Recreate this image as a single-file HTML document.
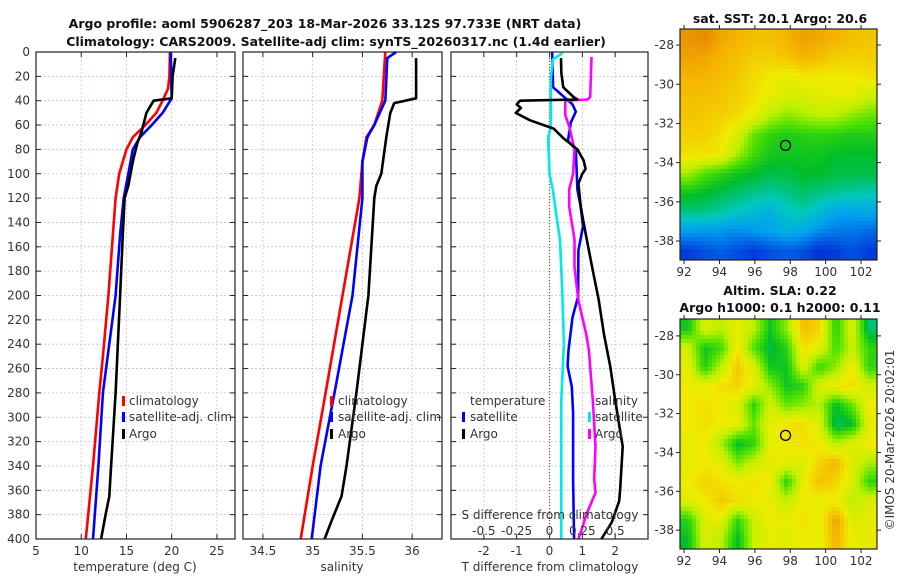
<!DOCTYPE html>
<html><head><meta charset="utf-8">
<style>
html,body{margin:0;padding:0;background:#fff;}
svg{display:block;font-family:"DejaVu Sans","Liberation Sans",sans-serif;}
.t{font-size:12px;fill:#333;}
.b{font-size:12.5px;font-weight:bold;fill:#111;}
</style></head><body>
<svg id="fig" width="900" height="580" viewBox="0 0 900 580">
<text class="b" x="325" y="28" text-anchor="middle">Argo profile: aoml 5906287_203 18-Mar-2026 33.12S 97.733E (NRT data)</text>
<text class="b" x="336" y="46" text-anchor="middle">Climatology: CARS2009. Satellite-adj clim: synTS_20260317.nc (1.4d earlier)</text>
<text class="b" x="780" y="23" text-anchor="middle">sat. SST: 20.1 Argo: 20.6</text>
<text class="b" x="780" y="295" text-anchor="middle">Altim. SLA: 0.22</text>
<text class="b" x="780" y="312" text-anchor="middle">Argo h1000: 0.1 h2000: 0.11</text>
<text class="t" transform="translate(894,440) rotate(-90)" text-anchor="middle">©IMOS 20-Mar-2026 20:02:01</text>
<g id="plots"></g>
</svg>
<script>
// ---- profile data ----
const tClimDepth=[0,20,30,40,50,60,70,80,90,100,120,150,200,250,280,340,400];
const tClimVal=[19.8,19.75,19.6,19.0,18.3,17.1,15.7,15.0,14.6,14.2,13.8,13.5,13.0,12.4,12.0,11.3,10.5];
const tSatDepth=[0,20,38,50,60,70,80,100,120,150,200,280,340,400];
const tSatVal=[19.9,19.95,20.0,19.0,17.8,16.5,15.7,15.2,14.7,14.3,13.8,12.4,11.9,11.3];
const tArgoDepth=[5,20,38,40,50,65,75,90,110,120,150,200,280,340,365,380,400];
const tArgoVal=[20.4,20.1,20.0,18.0,17.2,16.7,16.2,15.7,15.2,14.8,14.6,14.3,13.8,13.3,13.1,12.7,12.2];
const sClimDepth=[0,40,60,70,90,120,200,280,340,400];
const sClimVal=[35.73,35.7,35.62,35.54,35.5,35.47,35.3,35.13,35.0,34.88];
const sSatDepth=[0,5,40,60,70,90,120,200,280,340,400];
const sSatVal=[35.84,35.75,35.73,35.62,35.55,35.5,35.5,35.4,35.22,35.08,34.99];
const sArgoDepth=[5,38,42,50,70,100,110,120,200,280,340,365,385,400];
const sArgoVal=[36.04,36.04,35.82,35.78,35.74,35.69,35.64,35.62,35.56,35.44,35.34,35.29,35.19,35.12];
const dTSatDepth=[0,29,43,49,58,73,80,113,127,143,163,201,218,245,258,275,296,351,400];
const dTSatVal=[0.08,0.11,0.7,0.8,0.65,0.56,0.8,0.85,0.95,1.02,0.88,0.87,0.7,0.58,0.55,0.68,0.72,0.72,0.75];
const dTArgoDepth=[5,17,29,37,39,40,43,46,50,56,63,71,80,89,96,100,108,127,149,177,204,232,258,286,324,360,369,386,400];
const dTArgoVal=[0.35,0.36,0.42,0.73,0.85,-0.9,-1.0,-0.87,-1.03,-0.6,0.13,0.43,0.85,1.04,1.1,1.0,0.88,0.95,1.1,1.3,1.5,1.66,1.85,2.0,2.23,2.15,2.12,1.9,1.58];
const dSSatDepth=[1,6,22,39,61,70,100,113,140,154,204,240,286,400];
const dSSatVal=[0.1,0.025,0.01,0.01,0.01,-0.01,0.0,0.025,0.06,0.08,0.1,0.11,0.09,0.09];
const dSArgoDepth=[4,37,39,40,52,61,80,100,113,127,154,177,204,232,245,286,324,351,362,380,394,400];
const dSArgoVal=[0.32,0.31,0.29,0.12,0.12,0.15,0.19,0.18,0.15,0.15,0.19,0.19,0.22,0.28,0.3,0.33,0.35,0.34,0.35,0.28,0.24,0.22];
const depthTicks=[0,20,40,60,80,100,120,140,160,180,200,220,240,260,280,300,320,340,360,380,400];
const tTicks=[5,10,15,20,25];
const sTicks=[34.5,35,35.5,36];
const dTTicks=[-2,-1,0,1,2];
const dSTicks=[-0.5,-0.25,0,0.25,0.5];
// ---- map data (colour index 0..1) ----
const sstGrid=[
[0.95,0.97,0.92,0.9,0.88,0.88,0.9,0.93,0.92,0.9,0.88,0.87],
[0.93,0.92,0.9,0.88,0.85,0.85,0.87,0.9,0.88,0.85,0.85,0.85],
[0.9,0.9,0.88,0.86,0.83,0.8,0.78,0.8,0.8,0.8,0.8,0.82],
[0.88,0.88,0.87,0.85,0.82,0.78,0.75,0.75,0.77,0.78,0.78,0.72],
[0.87,0.86,0.85,0.83,0.78,0.7,0.65,0.68,0.7,0.7,0.65,0.62],
[0.85,0.85,0.82,0.75,0.62,0.56,0.54,0.55,0.56,0.55,0.54,0.54],
[0.82,0.82,0.8,0.68,0.58,0.53,0.52,0.52,0.52,0.5,0.5,0.5],
[0.68,0.6,0.56,0.52,0.5,0.48,0.48,0.5,0.5,0.48,0.48,0.48],
[0.52,0.5,0.48,0.46,0.44,0.42,0.44,0.46,0.44,0.43,0.42,0.41],
[0.44,0.44,0.42,0.39,0.37,0.34,0.39,0.41,0.37,0.32,0.31,0.32],
[0.3,0.29,0.29,0.27,0.29,0.31,0.34,0.32,0.27,0.24,0.24,0.22],
[0.15,0.18,0.2,0.18,0.15,0.18,0.2,0.18,0.13,0.15,0.18,0.15]];
const slaGrid=[
[0.52,0.76,0.7,0.78,0.7,0.52,0.66,0.88,0.84,0.55,0.76,0.45],
[0.74,0.52,0.58,0.8,0.6,0.48,0.55,0.82,0.78,0.58,0.72,0.56],
[0.78,0.54,0.7,0.87,0.76,0.52,0.52,0.76,0.56,0.66,0.8,0.56],
[0.8,0.78,0.82,0.84,0.78,0.66,0.52,0.55,0.76,0.8,0.83,0.74],
[0.8,0.82,0.8,0.76,0.56,0.74,0.62,0.66,0.7,0.5,0.62,0.8],
[0.8,0.82,0.8,0.78,0.62,0.78,0.82,0.82,0.76,0.46,0.5,0.78],
[0.78,0.8,0.68,0.5,0.56,0.78,0.8,0.82,0.8,0.7,0.76,0.8],
[0.78,0.8,0.78,0.64,0.72,0.78,0.78,0.76,0.84,0.9,0.76,0.68],
[0.8,0.84,0.82,0.8,0.82,0.8,0.55,0.78,0.88,0.84,0.76,0.56],
[0.76,0.8,0.86,0.82,0.8,0.78,0.72,0.8,0.78,0.8,0.7,0.76],
[0.55,0.76,0.78,0.56,0.72,0.8,0.78,0.82,0.78,0.93,0.76,0.78],
[0.5,0.76,0.7,0.5,0.72,0.78,0.76,0.8,0.78,0.9,0.78,0.78]];
const lonTicks=[92,94,96,98,100,102];
const latTicks=[-28,-30,-32,-34,-36,-38];
const argoLon=97.733, argoLat=-33.12;

const NS='http://www.w3.org/2000/svg';
const root=document.getElementById('plots');
function mk(tag,attrs,parent){const e=document.createElementNS(NS,tag);for(const k in attrs)e.setAttribute(k,attrs[k]);(parent||root).appendChild(e);return e;}
const Y0=52,Y1=539;
function yD(d){return Y0+(Y1-Y0)*d/400;}
function lin(a,b,p,q){return v=>p+(v-a)*(q-p)/(b-a);}

function panel(name,x0,x1,xs,ticks,fmt,showY){
  const g=mk('g',{});
  
  
  depthTicks.forEach(d=>{const l=mk('line',{x1:x0,x2:x1,y1:yD(d),y2:yD(d),stroke:'#b8c4e8','stroke-width':0.8,'stroke-dasharray':'2,2'},g);
    
    const t1=mk('line',{x1:x0,x2:x0+5,y1:yD(d),y2:yD(d),stroke:'#222'},g);
    const t2=mk('line',{x1:x1-5,x2:x1,y1:yD(d),y2:yD(d),stroke:'#222'},g);
    if(showY){const t=mk('text',{x:x0-6,y:yD(d)+4,'text-anchor':'end',class:'t'},g);t.textContent=d;}
  });
  ticks.forEach(v=>{const x=xs(v);
    const l=mk('line',{x1:x,x2:x,y1:Y0,y2:Y1,stroke:'#d8c0b8','stroke-width':0.8,'stroke-dasharray':'2,2'},g);
    const t1=mk('line',{x1:x,x2:x,y1:Y1-5,y2:Y1,stroke:'#222'},g);
    const t2=mk('line',{x1:x,x2:x,y1:Y0,y2:Y0+5,stroke:'#222'},g);
    const t=mk('text',{x:x,y:Y1+16,'text-anchor':'middle',class:'t'},g);t.textContent=fmt(v);
  });
  return g;
}
function frame(g,x0,x1){const r=mk('rect',{x:x0,y:Y0,width:x1-x0,height:Y1-Y0,fill:'none',stroke:'#222','stroke-width':1.2},g);}
function line(g,name,ds,vs,xs,col){
  const pts=ds.map((d,i)=>xs(vs[i]).toFixed(1)+','+yD(d).toFixed(1)).join(' ');
  const p=mk('polyline',{points:pts,fill:'none',stroke:col,'stroke-width':2.6,'stroke-linejoin':'round'},g);
  
}
function txt(g,name,x,y,s,anchor){const t=mk('text',{x:x,y:y,class:'t','text-anchor':anchor||'start'},g);t.textContent=s;return t;}
function lbar(g,x,y,col){const r=mk('rect',{x:x,y:y-9,width:3,height:10,fill:col},g);}

// Panel 1: temperature
const xT=lin(5,27,36,235);
const g1=panel('temperature-panel',36,235,xT,tTicks,v=>v,true);
line(g1,'temp-climatology-line',tClimDepth,tClimVal,xT,'#ff0000');
line(g1,'temp-satellite-line',tSatDepth,tSatVal,xT,'#0000ff');
line(g1,'temp-argo-line',tArgoDepth,tArgoVal,xT,'#000000');
frame(g1,36,235);
txt(g1,'x-axis-title-temperature',135,571,'temperature (deg C)','middle');
lbar(g1,122,405,'#ff0000');txt(g1,'legend-climatology',129,405,'climatology');
lbar(g1,122,421,'#0000ff');txt(g1,'legend-satellite-adj',129,421,'satellite-adj. clim');
lbar(g1,122,438,'#000');txt(g1,'legend-argo',129,438,'Argo');

// Panel 2: salinity
const xS=lin(34.3,36.3,243,442);
const g2=panel('salinity-panel',243,442,xS,sTicks,v=>v,false);
line(g2,'sal-climatology-line',sClimDepth,sClimVal,xS,'#ff0000');
line(g2,'sal-satellite-line',sSatDepth,sSatVal,xS,'#0000ff');
line(g2,'sal-argo-line',sArgoDepth,sArgoVal,xS,'#000000');
frame(g2,243,442);
txt(g2,'x-axis-title-salinity',342,571,'salinity','middle');
lbar(g2,330,405,'#ff0000');txt(g2,'legend-climatology',338,405,'climatology');
lbar(g2,330,421,'#0000ff');txt(g2,'legend-satellite-adj',338,421,'satellite-adj. clim');
lbar(g2,330,438,'#000');txt(g2,'legend-argo',338,438,'Argo');

// Panel 3: differences
const xdT=lin(-3,3,451,648);
const xdS=lin(-0.75,0.75,451,648);
const g3=panel('difference-panel',451,648,xdT,dTTicks,v=>v,false);
const z=mk('line',{x1:xdT(0),x2:xdT(0),y1:Y0,y2:Y1,stroke:'#556633','stroke-width':1.2,'stroke-dasharray':'1,2'},g3);

line(g3,'dt-satellite-line',dTSatDepth,dTSatVal,xdT,'#0000ff');
line(g3,'ds-satellite-line',dSSatDepth,dSSatVal,xdS,'#00e8e8');
line(g3,'ds-argo-line',dSArgoDepth,dSArgoVal,xdS,'#ff00ff');
line(g3,'dt-argo-line',dTArgoDepth,dTArgoVal,xdT,'#000000');
frame(g3,451,648);
txt(g3,'x-axis-title-tdiff',550,571,'T difference from climatology','middle');
txt(g3,'s-axis-title',550,519,'S difference from climatology','middle');
dSTicks.forEach(v=>{txt(g3,'s-tick-label',xdS(v),535,String(v),'middle');});
txt(g3,'legend-temperature-heading',470,405,'temperature');
lbar(g3,462,421,'#0000ff');txt(g3,'legend-t-satellite',470,421,'satellite');
lbar(g3,462,438,'#000');txt(g3,'legend-t-argo',470,438,'Argo');
txt(g3,'legend-salinity-heading',595,405,'salinity');
lbar(g3,588,421,'#00e8e8');txt(g3,'legend-s-satellite',595,421,'satellite');
lbar(g3,588,438,'#ff00ff');txt(g3,'legend-s-argo',595,438,'Argo');

// ---- maps ----
const stops=[[0,[0,0,140]],[0.15,[0,60,220]],[0.3,[0,160,240]],[0.4,[0,200,190]],[0.5,[0,190,40]],[0.6,[80,225,0]],[0.7,[190,240,0]],[0.8,[240,235,0]],[0.9,[245,180,0]],[1,[225,120,0]]];
function cmap(v){v=Math.max(0,Math.min(1,v));for(let i=1;i<stops.length;i++){if(v<=stops[i][0]){const a=stops[i-1],b=stops[i];const f=(v-a[0])/(b[0]-a[0]);const c=a[1].map((x,k)=>Math.round(x+(b[1][k]-x)*f));return 'rgb('+c.join(',')+')';}}return 'rgb(225,120,0)';}
function bil(G,u,w){const R=G.length,C=G[0].length;let fx=u*C-0.5,fy=w*R-0.5;fx=Math.max(0,Math.min(C-1,fx));fy=Math.max(0,Math.min(R-1,fy));
  const i=Math.floor(fy),j=Math.floor(fx),i2=Math.min(R-1,i+1),j2=Math.min(C-1,j+1),a=fy-i,b=fx-j;
  return G[i][j]*(1-a)*(1-b)+G[i][j2]*(1-a)*b+G[i2][j]*a*(1-b)+G[i2][j2]*a*b;}
function drawMap(name,G,x0,x1,y0,y1,lonA,lonB,latA,latB){
  const g=mk('g',{});
  const step=4;
  for(let y=y0;y<y1;y+=step){for(let x=x0;x<x1;x+=step){
    const v=bil(G,(x+step/2-x0)/(x1-x0),(y+step/2-y0)/(y1-y0));
    const r=mk('rect',{x:x,y:y,width:Math.min(step,x1-x)+0.3,height:Math.min(step,y1-y)+0.3,fill:cmap(v)},g);
    
  }}
  const lx=lin(lonA,lonB,x0,x1),ly=lin(latA,latB,y0,y1);
  const f=mk('rect',{x:x0,y:y0,width:x1-x0,height:y1-y0,fill:'none',stroke:'#222','stroke-width':1.2},g);
  lonTicks.forEach(v=>{const x=lx(v);const t=mk('line',{x1:x,x2:x,y1:y1,y2:y1+4,stroke:'#222'},g);
    const t2=mk('line',{x1:x,x2:x,y1:y0-4,y2:y0,stroke:'#222'},g);
    txt(g,'lon-tick-label',x,y1+16,v,'middle');});
  latTicks.forEach(v=>{const y=ly(v);const t=mk('line',{x1:x0-4,x2:x0,y1:y,y2:y,stroke:'#222'},g);
    const t2=mk('line',{x1:x1,x2:x1+4,y1:y,y2:y,stroke:'#222'},g);
    txt(g,'lat-tick-label',x0-6,y+4,v,'end');});
  const c=mk('circle',{cx:lx(argoLon),cy:ly(argoLat),r:5,fill:'none',stroke:'#000','stroke-width':1.3},g);
  
}
drawMap('sst-map',sstGrid,680,877,29,260,91.77,102.9,-27.18,-38.97);
drawMap('sla-map',slaGrid,680,877,319,549,91.77,102.9,-27.13,-38.97);
</script>
</body></html>
